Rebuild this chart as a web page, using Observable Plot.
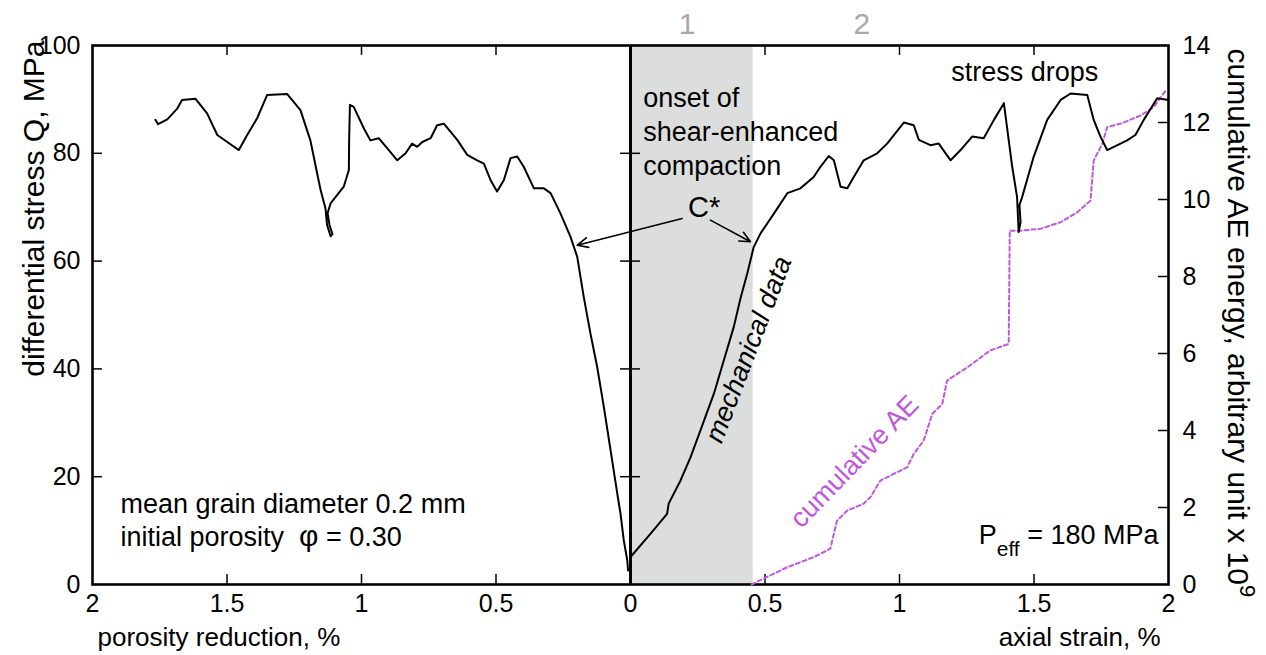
<!DOCTYPE html>
<html><head><meta charset="utf-8">
<script src="https://cdn.jsdelivr.net/npm/d3@7"></script>
<script src="https://cdn.jsdelivr.net/npm/@observablehq/plot@0.6"></script>
<style>body{margin:0;background:#fff;}</style>
</head><body><div id="chart"></div>
<script>
// ---- data ----
// porosity reduction (%) and differential stress Q (MPa), in loading order
const porosityReduction = [0.009,0.012,0.025,0.037,0.049,0.074,0.099,0.124,0.149,0.174,0.198,0.223,0.260,0.297,0.322,0.359,0.397,0.421,0.446,0.471,0.496,0.520,0.545,0.570,0.607,0.644,0.694,0.719,0.743,0.774,0.793,0.812,0.836,0.867,0.904,0.936,0.967,0.991,1.029,1.043,1.046,1.047,1.066,1.115,1.126,1.119,1.108,1.115,1.128,1.134,1.152,1.165,1.190,1.227,1.276,1.351,1.388,1.425,1.456,1.499,1.536,1.574,1.617,1.667,1.685,1.722,1.756,1.766];
const porosityQ = [2.6,4.5,8.2,13.1,16.8,24.9,32.9,40.4,46.6,53.4,60.8,64.5,68.8,72.6,73.5,73.5,77.5,79.4,79.1,75.0,72.9,75.0,78.1,78.7,79.7,82.5,85.5,85.2,82.8,82.1,81.2,81.8,80.0,78.7,80.9,82.8,82.4,84.6,88.6,89.0,82.4,76.9,73.8,70.7,68.9,66.7,65.0,64.6,66.7,69.8,73.2,76.3,82.4,88.0,91.0,90.8,86.5,83.4,80.6,82.1,83.4,87.4,90.1,89.9,88.3,86.3,85.4,86.2];
// axial strain (%) and differential stress Q (MPa)
const axialStrain = [0.000,0.074,0.136,0.142,0.186,0.223,0.260,0.310,0.347,0.384,0.409,0.434,0.458,0.483,0.533,0.583,0.632,0.681,0.706,0.737,0.756,0.781,0.806,0.830,0.867,0.917,0.954,1.016,1.053,1.072,1.115,1.146,1.190,1.227,1.270,1.313,1.351,1.388,1.419,1.437,1.443,1.450,1.446,1.456,1.499,1.549,1.599,1.636,1.698,1.722,1.747,1.772,1.797,1.846,1.877,1.908,1.958,2.000];
const axialQ = [5.1,9.4,13.1,15.0,19.3,23.6,28.6,35.4,41.6,47.8,53.1,57.7,62.6,65.1,68.8,72.6,73.5,75.6,77.5,79.5,78.7,73.8,73.5,75.6,78.7,80.0,81.8,85.7,85.2,82.5,81.5,81.8,78.7,80.6,83.1,82.8,86.2,89.3,77.5,71.9,65.4,67.2,70.4,71.9,79.4,86.2,89.9,91.1,90.8,86.2,83.1,80.6,81.2,82.4,83.4,86.2,90.2,89.9];
// cumulative AE energy (arbitrary unit x 10^9) vs axial strain (%)
const aeStrain = [0.450,0.494,0.583,0.681,0.743,0.756,0.768,0.806,0.867,0.892,0.929,1.004,1.029,1.053,1.090,1.122,1.159,1.177,1.252,1.338,1.406,1.410,1.450,1.524,1.599,1.661,1.710,1.722,1.754,1.772,1.822,1.896,1.945,1.989];
const aeEnergy = [0.00,0.15,0.45,0.71,0.93,1.32,1.66,1.92,2.10,2.27,2.70,2.96,3.05,3.39,3.74,4.43,4.69,5.30,5.64,6.08,6.25,9.19,9.19,9.24,9.41,9.67,9.97,11.01,11.45,11.88,11.97,12.18,12.40,12.83];
// shaded interval of axial strain (%)
const shadedStrain = [0, 0.456];
// stage markers above the plot
const stageLabels = ["1", "2"];
const stageStrain = [0.21, 0.86];
// ticks
const xTicks = [-2, -1.5, -1, -0.5, 0, 0.5, 1, 1.5, 2];
const qTicks = [0, 20, 40, 60, 80, 100];
const aeTicks = [0, 2, 4, 6, 8, 10, 12, 14];
const Q_MAX = 100, AE_MAX = 14;

// ---- chart ----
const FONT = "'Liberation Sans', Arial, Helvetica, sans-serif";
const aeToQ = v => v * Q_MAX / AE_MAX;
const innerTicksX = xTicks.filter(d => Math.abs(d) !== 2 && d !== 0);
const innerTicksQ = qTicks.filter(d => d !== 0 && d !== Q_MAX);
const innerTicksAE = aeTicks.filter(d => d !== 0 && d !== AE_MAX);
const txLen = 0.037, tyLen = 1.85;
const purple = "#c057df";

const chart = Plot.plot({
  width: 1266, height: 655,
  marginLeft: 92, marginRight: 98, marginTop: 45, marginBottom: 71,
  style: {fontFamily: FONT, fontSize: "25px", background: "#fff", color: "#000"},
  x: {domain: [-2, 2]},
  y: {domain: [0, Q_MAX]},
  marks: [
    Plot.rect([shadedStrain], {x1: d => d[0], x2: d => d[1], y1: 0, y2: Q_MAX, fill: "#dcdedd"}),
    // inward ticks
    Plot.ruleY(innerTicksQ, {y: d => d, x1: -2, x2: -2 + txLen, stroke: "#000", strokeWidth: 1.5}),
    Plot.ruleY(innerTicksQ, {y: d => d, x1: -txLen, x2: txLen, stroke: "#000", strokeWidth: 1.5}),
    Plot.ruleY(innerTicksAE, {y: d => aeToQ(d), x1: 2 - txLen, x2: 2, stroke: "#000", strokeWidth: 1.5}),
    Plot.ruleX(innerTicksX, {x: d => d, y1: 0, y2: tyLen, stroke: "#000", strokeWidth: 1.5}),
    Plot.ruleX(innerTicksX, {x: d => d, y1: Q_MAX - tyLen, y2: Q_MAX, stroke: "#000", strokeWidth: 1.5}),
    Plot.ruleX([0], {stroke: "#000", strokeWidth: 3}),
    Plot.frame({stroke: "#000", strokeWidth: 2.6}),
    // data
    Plot.line(aeEnergy, {x: (d, i) => aeStrain[i], y: d => aeToQ(d), stroke: purple, strokeWidth: 2, strokeDasharray: "4,3"}),
    Plot.line(porosityQ, {x: (d, i) => -porosityReduction[i], y: d => d, stroke: "#000", strokeWidth: 2}),
    Plot.line(axialQ, {x: (d, i) => axialStrain[i], y: d => d, stroke: "#000", strokeWidth: 2}),
    // axes
    Plot.axisY(qTicks, {anchor: "left", tickSize: 0, tickPadding: 12, fontSize: 25, label: null}),
    Plot.axisY(aeTicks.map(aeToQ), {anchor: "right", tickSize: 0, tickPadding: 14, fontSize: 25, label: null,
      tickFormat: d => String(Math.round(d * AE_MAX / Q_MAX))}),
    Plot.axisX(xTicks, {anchor: "bottom", tickSize: 0, tickPadding: 10, fontSize: 25, label: null,
      tickFormat: d => String(Math.abs(d))}),
    // axis titles
    Plot.text(["porosity reduction, %"], {text: d => d, frameAnchor: "bottom-left", dx: 5, dy: 61, textAnchor: "start", lineAnchor: "bottom", fontSize: 26}),
    Plot.text(["axial strain, %"], {text: d => d, frameAnchor: "bottom-right", dx: -8, dy: 61, textAnchor: "end", lineAnchor: "bottom", fontSize: 26}),
    Plot.text(["differential stress Q, MPa"], {text: d => d, frameAnchor: "top-left", dx: -49, dy: -5, rotate: -90, textAnchor: "end", lineAnchor: "bottom", fontSize: 30}),
    Plot.text(["cumulative AE energy, arbitrary unit x 10^9"], {text: d => d, frameAnchor: "top-right", dx: 59, dy: 3, rotate: 90, textAnchor: "start", lineAnchor: "bottom", fontSize: 30}),
    // stage markers
    Plot.text(stageLabels, {x: (d, i) => stageStrain[i], text: d => d, frameAnchor: "top", dy: -12, lineAnchor: "bottom", fontSize: 30, fill: "#a8a8a8"}),
    // annotations
    Plot.text(["onset of\nshear-enhanced\ncompaction"], {text: d => d, x: 0.047, y: 75.9, textAnchor: "start", lineAnchor: "bottom", lineHeight: 1.26, fontSize: 27}),
    Plot.text(["C*"], {text: d => d, x: 0.214, y: 68.2, textAnchor: "start", lineAnchor: "bottom", fontSize: 29}),
    Plot.arrow([[0.192, 67.9, -0.198, 62.95], [0.297, 67.6, 0.446, 63.6]], {x1: d => d[0], y1: d => d[1], x2: d => d[2], y2: d => d[3], stroke: "#000", strokeWidth: 1.6, headLength: 11, headAngle: 50}),
    Plot.text(["stress drops"], {text: d => d, x: 1.192, y: 93.5, textAnchor: "start", lineAnchor: "bottom", fontSize: 27}),
    Plot.text(["mechanical data"], {text: d => d, x: 0.439, y: 43.6, rotate: -69, textAnchor: "middle", lineAnchor: "middle", fontSize: 27, fontStyle: "italic"}),
    Plot.text(["cumulative AE"], {text: d => d, x: 0.833, y: 22.8, rotate: -46, textAnchor: "middle", lineAnchor: "middle", fontSize: 27, fill: purple}),
    Plot.text(["mean grain diameter 0.2 mm"], {text: d => d, x: -1.896, y: 13.2, textAnchor: "start", lineAnchor: "bottom", fontSize: 27}),
    Plot.text(["initial porosity φ = 0.30"], {text: d => d, x: -1.896, y: 7.06, textAnchor: "start", lineAnchor: "bottom", fontSize: 27}),
    Plot.text(["P_eff = 180 MPa"], {text: d => d, x: 1.963, y: 7.6, textAnchor: "end", lineAnchor: "bottom", fontSize: 27})
  ]
});

// sub/superscripts and symbol sizing
function rich(el, parts) {
  el.textContent = "";
  for (const p of parts) {
    const t = document.createElementNS("http://www.w3.org/2000/svg", "tspan");
    t.textContent = p.t;
    if (p.size) t.setAttribute("font-size", p.size);
    if (p.dy) t.setAttribute("dy", p.dy);
    el.appendChild(t);
  }
}
d3.select(chart).selectAll("text").each(function () {
  const s = this.textContent;
  if (s === "P_eff = 180 MPa") rich(this, [{t: "P"}, {t: "eff", size: 21, dy: 12}, {t: " = 180 MPa", dy: -12}]);
  else if (s === "cumulative AE energy, arbitrary unit x 10^9") rich(this, [{t: "cumulative AE energy, arbitrary unit x 10"}, {t: "9", size: 22, dy: -12}]);
  else if (s === "initial porosity φ = 0.30") rich(this, [{t: "initial porosity\u00a0\u00a0"}, {t: "φ", size: 30}, {t: " = 0.30"}]);
});

document.getElementById("chart").appendChild(chart);
</script>
</body></html>
